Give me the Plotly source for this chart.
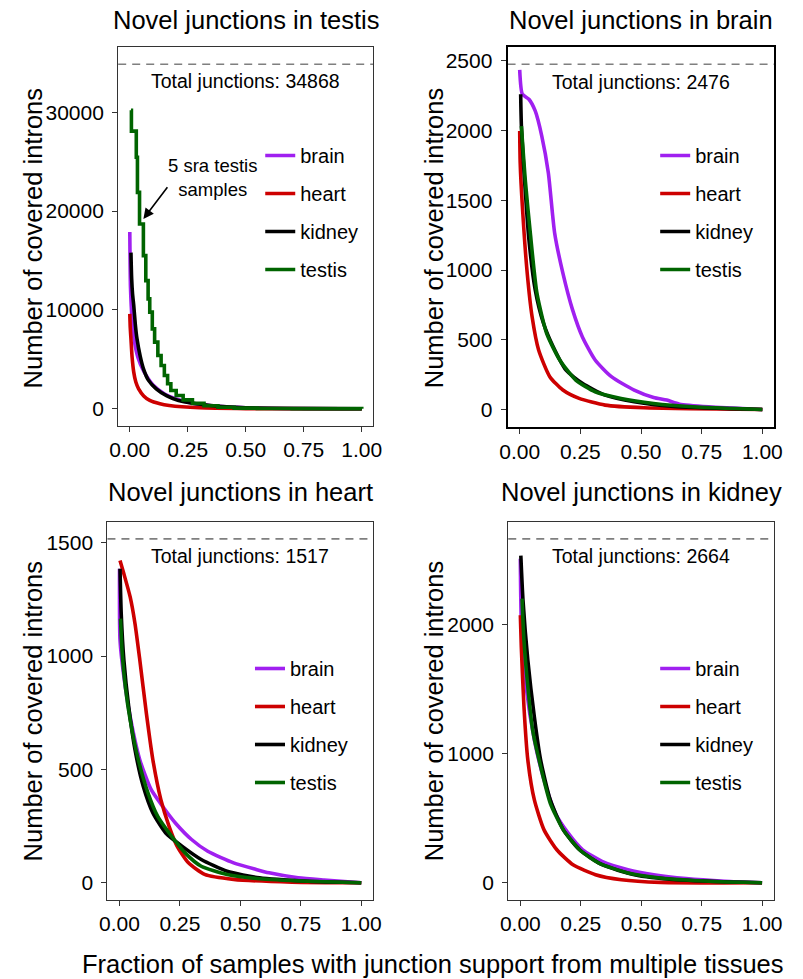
import plotly.graph_objects as go

W, H = 803, 979

TISSUES = ["brain", "heart", "kidney", "testis"]
COLORS = {"brain": "#A020F0", "heart": "#CD0000", "kidney": "#000000", "testis": "#006400"}

PANEL_TITLES = ["Novel junctions in testis", "Novel junctions in brain",
                "Novel junctions in heart", "Novel junctions in kidney"]
TOTALS = [34868, 2476, 1517, 2664]

X_TICKS = [0, 0.25, 0.5, 0.75, 1.0]
Y_TICKS_TESTIS = [0, 10000, 20000, 30000]
Y_TICKS_BRAIN = [0, 500, 1000, 1500, 2000, 2500]
Y_TICKS_HEART = [0, 500, 1000, 1500]
Y_TICKS_KIDNEY = [0, 1000, 2000]

# ---- panel 1: novel junctions in testis ----
P1_BRAIN_X = [0.0, 0.003, 0.01, 0.02, 0.035, 0.06, 0.1, 0.15, 0.2, 0.3, 0.5, 0.75, 1.0]
P1_BRAIN_Y = [17900, 12300, 9000, 6800, 5200, 3800, 2400, 1500, 1000, 420, 100, 20, 0]
P1_HEART_X = [0.0, 0.002, 0.005, 0.01, 0.017, 0.026, 0.038, 0.06, 0.086, 0.13, 0.17, 0.3, 0.5, 1.0]
P1_HEART_Y = [9600, 8200, 7080, 5200, 3710, 2700, 2020, 1300, 840, 500, 330, 100, 20, 0]
P1_KIDNEY_X = [0.005, 0.008, 0.012, 0.017, 0.024, 0.031, 0.045, 0.059, 0.08, 0.114, 0.16, 0.21, 0.35, 0.5, 1.0]
P1_KIDNEY_Y = [15800, 13200, 11600, 10450, 8500, 7080, 5300, 4040, 2900, 2020, 1300, 840, 330, 100, 0]
P1_TESTIS_X = [0.005, 0.007, 0.028, 0.033, 0.042, 0.0586, 0.069, 0.079, 0.086, 0.097, 0.107, 0.121,
               0.135, 0.149, 0.163, 0.177, 0.2, 0.23, 0.27, 0.32, 0.38, 0.45, 0.55, 0.7, 1.0]
P1_TESTIS_Y = [30200, 28100, 25450, 21900, 18700, 15500, 12970, 11120, 9780, 8090, 6740, 5390,
               4380, 3370, 2530, 1850, 1350, 900, 550, 300, 150, 70, 30, 10, 0]

# ---- panel 2: novel junctions in brain ----
P2_BRAIN_X = [0.0, 0.011, 0.038, 0.064, 0.091, 0.118, 0.144, 0.178, 0.218, 0.258, 0.311, 0.378,
              0.472, 0.552, 0.606, 0.659, 0.779, 1.0]
P2_BRAIN_Y = [2436, 2261, 2225, 2141, 1961, 1698, 1266, 978, 714, 522, 355, 235, 139, 86, 67, 38, 19, 0]
P2_HEART_X = [0.0, 0.002, 0.011, 0.031, 0.051, 0.078, 0.124, 0.178, 0.245, 0.352, 0.512, 1.0]
P2_HEART_Y = [1997, 1770, 1458, 978, 666, 426, 235, 139, 79, 31, 12, 0]
P2_KIDNEY_X = [0.004, 0.007, 0.018, 0.038, 0.064, 0.098, 0.138, 0.191, 0.258, 0.352, 0.472, 0.646, 1.0]
P2_KIDNEY_Y = [2261, 2033, 1698, 1218, 858, 618, 450, 282, 187, 103, 55, 19, 0]
P2_TESTIS_X = [0.007, 0.024, 0.044, 0.071, 0.111, 0.165, 0.231, 0.311, 0.418, 0.552, 0.713, 1.0]
P2_TESTIS_Y = [2033, 1626, 1260, 834, 546, 355, 211, 127, 79, 43, 19, 0]

# ---- panel 3: novel junctions in heart ----
P3_BRAIN_X = [0.0, 0.002, 0.018, 0.044, 0.084, 0.131, 0.178, 0.231, 0.298, 0.365, 0.472, 0.565,
              0.619, 0.739, 0.846, 1.0]
P3_BRAIN_Y = [1385, 1070, 909, 733, 542, 411, 338, 264, 191, 139, 88, 59, 44, 22, 12, 0]
P3_HEART_X = [0.002, 0.018, 0.044, 0.064, 0.084, 0.111, 0.138, 0.171, 0.205, 0.238, 0.285, 0.352,
              0.472, 0.713, 1.0]
P3_HEART_Y = [1422, 1363, 1261, 1143, 982, 748, 542, 367, 249, 162, 88, 37, 15, 3, 0]
P3_KIDNEY_X = [0.002, 0.007, 0.018, 0.038, 0.064, 0.098, 0.138, 0.191, 0.258, 0.338, 0.445, 0.579, 0.779, 1.0]
P3_KIDNEY_Y = [1385, 1187, 982, 777, 587, 426, 308, 220, 162, 103, 51, 22, 7, 0]
P3_TESTIS_X = [0.004, 0.011, 0.024, 0.044, 0.078, 0.118, 0.158, 0.205, 0.271, 0.338, 0.445, 0.579, 0.779, 1.0]
P3_TESTIS_Y = [1165, 1011, 865, 718, 542, 396, 293, 220, 132, 73, 37, 18, 7, 0]

# ---- panel 4: novel junctions in kidney ----
P4_BRAIN_X = [0.0, 0.004, 0.024, 0.058, 0.098, 0.145, 0.198, 0.258, 0.338, 0.445, 0.552, 0.686, 0.846, 1.0]
P4_BRAIN_Y = [2510, 2033, 1518, 1106, 797, 539, 385, 256, 166, 102, 63, 33, 12, 0]
P4_HEART_X = [0.0, 0.004, 0.015, 0.031, 0.058, 0.098, 0.151, 0.218, 0.311, 0.418, 0.579, 1.0]
P4_HEART_Y = [2072, 1827, 1364, 951, 642, 410, 256, 140, 63, 24, 3, 0]
P4_KIDNEY_X = [0.002, 0.011, 0.031, 0.058, 0.084, 0.124, 0.178, 0.245, 0.338, 0.472, 0.646, 1.0]
P4_KIDNEY_Y = [2535, 2188, 1725, 1285, 951, 642, 410, 256, 140, 63, 24, 0]
P4_TESTIS_X = [0.007, 0.015, 0.031, 0.051, 0.084, 0.124, 0.178, 0.245, 0.325, 0.445, 0.579, 0.779, 1.0]
P4_TESTIS_Y = [2201, 1879, 1518, 1183, 900, 616, 410, 256, 153, 76, 37, 12, 0]

PANELS = [
    {"brain": (P1_BRAIN_X, P1_BRAIN_Y), "heart": (P1_HEART_X, P1_HEART_Y),
     "kidney": (P1_KIDNEY_X, P1_KIDNEY_Y), "testis": (P1_TESTIS_X, P1_TESTIS_Y)},
    {"brain": (P2_BRAIN_X, P2_BRAIN_Y), "heart": (P2_HEART_X, P2_HEART_Y),
     "kidney": (P2_KIDNEY_X, P2_KIDNEY_Y), "testis": (P2_TESTIS_X, P2_TESTIS_Y)},
    {"brain": (P3_BRAIN_X, P3_BRAIN_Y), "heart": (P3_HEART_X, P3_HEART_Y),
     "kidney": (P3_KIDNEY_X, P3_KIDNEY_Y), "testis": (P3_TESTIS_X, P3_TESTIS_Y)},
    {"brain": (P4_BRAIN_X, P4_BRAIN_Y), "heart": (P4_HEART_X, P4_HEART_Y),
     "kidney": (P4_KIDNEY_X, P4_KIDNEY_Y), "testis": (P4_TESTIS_X, P4_TESTIS_Y)},
]
Y_TICKS = [Y_TICKS_TESTIS, Y_TICKS_BRAIN, Y_TICKS_HEART, Y_TICKS_KIDNEY]

FONT = "Liberation Sans, Arial, Helvetica, sans-serif"

# panel boxes in pixels: (left, right, top, bottom)
BOXES = [(111.7, 372.7, 47, 426), (510, 783, 47, 426.7),
         (100.7, 372.7, 521.7, 900), (510.7, 782.7, 521.7, 900)]
LEGEND_POS = [(257, 136), (661, 136), (246.5, 649), (661, 649)]
YTITLE_POS = [(25, 238), (435, 238), (25, 711), (435, 711)]

def px_x(p):
    return p / W

def px_y(p):
    return 1 - p / H

fig = go.Figure()
layout = dict(
    width=W, height=H, margin=dict(l=0, r=0, t=0, b=0),
    paper_bgcolor="white", plot_bgcolor="white",
    font=dict(family=FONT, color="#000000"),
    annotations=[], shapes=[],
)

for i, panel in enumerate(PANELS):
    n = "" if i == 0 else str(i + 1)
    xa, ya = "x" + n, "y" + n
    leg = "legend" + n
    for t in TISSUES:
        xs, ys = panel[t]
        shape = "hv" if (i == 0 and t == "testis") else "spline"
        fig.add_trace(go.Scatter(
            x=xs, y=ys, mode="lines", name=t, xaxis=xa, yaxis=ya,
            line=dict(color=COLORS[t], width=3.6, shape=shape,
                      **({"smoothing": 0.6} if shape == "spline" else {})),
            legend=leg, legendgroup=f"{i}-{t}", showlegend=True,
            hoverinfo="skip",
        ))
    l, r, tp, b = BOXES[i]
    total = TOTALS[i]
    ymax = total
    pad = 0.05 * ymax
    frame_col = "#000000" if i == 1 else "#333333"
    frame_w = 2 if i == 1 else 1.2
    layout["xaxis" + n] = dict(
        domain=[px_x(l), px_x(r)], range=[-0.05, 1.05], anchor=ya,
        tickvals=X_TICKS, ticktext=[f"{v:.2f}" for v in X_TICKS],
        ticks="outside", ticklen=5, tickwidth=1.2, tickcolor="#333333",
        showgrid=False, zeroline=False, showline=True, mirror=True,
        linecolor=frame_col, linewidth=frame_w,
        tickfont=dict(size=21, family=FONT, color="#000000"),
    )
    layout["yaxis" + n] = dict(
        domain=[px_y(b), px_y(tp)], range=[-pad, ymax + pad], anchor=xa,
        tickvals=Y_TICKS[i], ticktext=[str(v) for v in Y_TICKS[i]],
        ticks="outside", ticklen=5, tickwidth=1.2, tickcolor="#333333",
        ticklabelstandoff=4,
        showgrid=False, zeroline=False, showline=True, mirror=True,
        linecolor=frame_col, linewidth=frame_w,
        tickfont=dict(size=21, family=FONT, color="#000000"),
    )
    lx, ly = LEGEND_POS[i]
    layout[leg] = dict(
        x=px_x(lx), y=px_y(ly), xanchor="left", yanchor="top",
        xref="paper", yref="paper",
        bgcolor="rgba(0,0,0,0)", borderwidth=0,
        font=dict(size=20, family=FONT, color="#000000"),
        tracegroupgap=9, itemwidth=30, traceorder="grouped",
    )
    # dashed total line
    layout["shapes"].append(dict(
        type="line", xref=xa + " domain", yref=ya, x0=0, x1=1, y0=total, y1=total,
        line=dict(color="#7F7F7F", width=1.6, dash="8px,6px"), layer="below",
    ))
    layout["annotations"].append(dict(
        text=f"Total junctions: {total}", x=0.5, y=total * 0.95, xref=xa, yref=ya,
        showarrow=False, font=dict(size=19.5, family=FONT, color="#000000"),
        xanchor="center", yanchor="middle",
    ))
    # panel title
    layout["annotations"].append(dict(
        text=PANEL_TITLES[i], x=px_x((l + r) / 2), y=px_y(20 if i < 2 else 492),
        xref="paper", yref="paper", showarrow=False, xanchor="center", yanchor="middle",
        font=dict(size=25.5, family=FONT, color="#000000"),
    ))
    tx, ty = YTITLE_POS[i]
    layout["annotations"].append(dict(
        text="Number of covered introns", x=px_x(tx), y=px_y(ty), xref="paper", yref="paper",
        showarrow=False, textangle=-90, xanchor="center", yanchor="middle",
        font=dict(size=25.5, family=FONT, color="#000000"),
    ))

# arrow annotation in testis panel
layout["annotations"].append(dict(
    text="", x=0.0586, y=19211, ax=0.167, ay=22578, xref="x", yref="y", axref="x", ayref="y",
    showarrow=True, arrowhead=2, arrowsize=1.3, arrowwidth=1.6, arrowcolor="#000000",
))
layout["annotations"].append(dict(
    text="5 sra testis<br>samples", x=0.357, y=23357, xref="x", yref="y", showarrow=False,
    xanchor="center", yanchor="middle", font=dict(size=18.5, family=FONT, color="#000000"),
))
# shared x title
layout["annotations"].append(dict(
    text="Fraction of samples with junction support from multiple tissues",
    x=px_x(433.5), y=px_y(964), xref="paper", yref="paper", showarrow=False,
    xanchor="center", yanchor="middle", font=dict(size=25.5, family=FONT, color="#000000"),
))

fig.update_layout(**layout)
fig.write_html("out.html")
